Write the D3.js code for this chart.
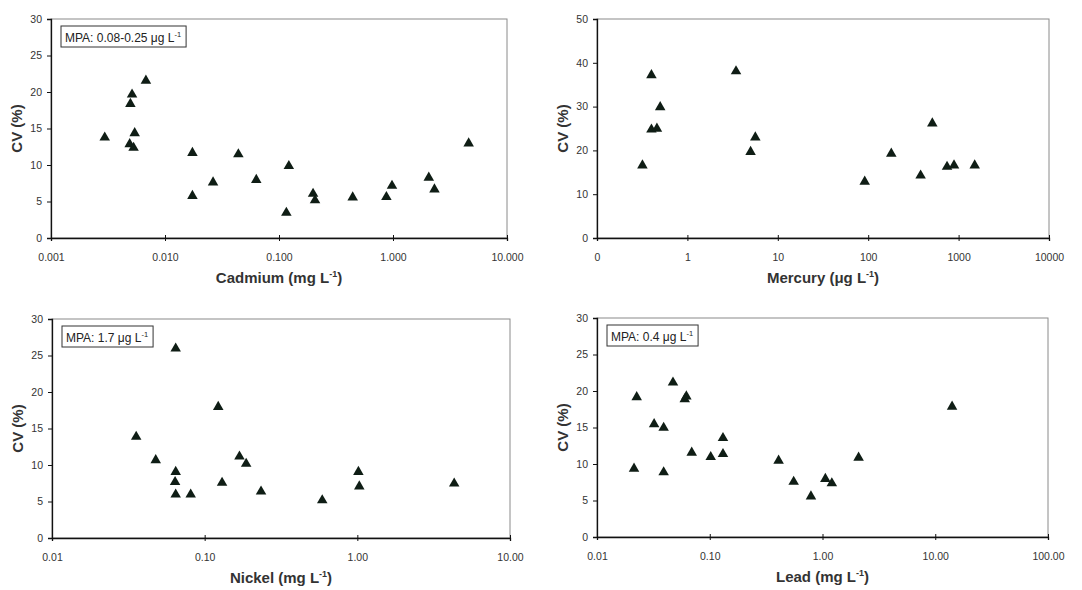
<!DOCTYPE html>
<html>
<head>
<meta charset="utf-8">
<script src="https://cdn.jsdelivr.net/npm/d3@7"></script>
<style>
body { margin: 0; background: #fff; }
svg { font-family: "Liberation Sans", Arial, sans-serif; }
</style>
</head>
<body>
<svg width="1082" height="590"></svg>
<script>
// データ
var cd_conc = [0.00296, 0.00497, 0.00514, 0.0068, 0.00542, 0.0049, 0.0053, 0.0174, 0.0174, 0.0264, 0.044,
               0.0632, 0.122, 0.116, 0.199, 0.207, 0.443, 0.875, 0.98, 2.06, 2.31, 4.61];
var cd_cv   = [13.9, 18.5, 19.8, 21.7, 14.5, 13.0, 12.5, 11.8, 5.9, 7.75, 11.6,
               8.1, 10.0, 3.6, 6.2, 5.3, 5.7, 5.75, 7.3, 8.4, 6.8, 13.1];

var hg_conc = [0.318, 0.40, 0.40, 0.46, 0.50, 3.45, 5.0, 5.64, 91.5, 180, 380, 512, 745, 890, 1507];
var hg_cv   = [16.8, 37.4, 25.0, 25.2, 30.1, 38.3, 19.9, 23.2, 13.1, 19.5, 14.5, 26.4, 16.5, 16.8, 16.8];

var ni_conc = [0.0356, 0.0478, 0.0646, 0.0646, 0.064, 0.0646, 0.081, 0.1227, 0.130, 0.169, 0.187,
               0.234, 0.589, 1.016, 1.03, 4.31];
var ni_cv   = [14.0, 10.8, 26.1, 9.2, 7.8, 6.1, 6.1, 18.1, 7.7, 11.3, 10.3,
               6.5, 5.3, 9.2, 7.2, 7.6];

var pb_conc = [0.0213, 0.0225, 0.0321, 0.039, 0.039, 0.0472, 0.060, 0.062, 0.0692, 0.102, 0.131,
               0.131, 0.408, 0.555, 0.79, 1.06, 1.21, 2.09, 14.1];
var pb_cv   = [9.5, 19.3, 15.6, 15.1, 9.0, 21.3, 19.0, 19.4, 11.7, 11.1, 13.7,
               11.5, 10.6, 7.7, 5.7, 8.1, 7.5, 11.0, 18.0];

// 軸の範囲・目盛り
var cd_xticks = [0.001, 0.01, 0.1, 1, 10];
var hg_xticks = [0.1, 1, 10, 100, 1000, 10000];
var ni_xticks = [0.01, 0.1, 1, 10];
var pb_xticks = [0.01, 0.1, 1, 10, 100];
var cv30_ticks = [0, 5, 10, 15, 20, 25, 30];
var cv50_ticks = [0, 10, 20, 30, 40, 50];

var x_titles = ["Cadmium (mg L", "Mercury (\u03bcg L", "Nickel (mg L", "Lead (mg L"];
var mpa_texts = ["MPA:  0.08-0.25 \u03bcg L", null, "MPA: 1.7 \u03bcg L", "MPA: 0.4 \u03bcg L"];

// パネル定義（位置はここだけ）
var panels = [
    { x: cd_conc, y: cd_cv, xt: cd_xticks, yt: cv30_ticks, fmt: ".3f", title: x_titles[0], mpa: mpa_texts[0],
      left: 51, right: 507, top: 19, bottom: 238 },
    { x: hg_conc, y: hg_cv, xt: hg_xticks, yt: cv50_ticks, fmt: ".0f", title: x_titles[1], mpa: mpa_texts[1],
      left: 597, right: 1049, top: 19, bottom: 238 },
    { x: ni_conc, y: ni_cv, xt: ni_xticks, yt: cv30_ticks, fmt: ".2f", title: x_titles[2], mpa: mpa_texts[2],
      left: 52, right: 510, top: 319, bottom: 538 },
    { x: pb_conc, y: pb_cv, xt: pb_xticks, yt: cv30_ticks, fmt: ".2f", title: x_titles[3], mpa: mpa_texts[3],
      left: 597, right: 1048, top: 318, bottom: 537 }
];

var svg = d3.select("svg");
var tri = d3.symbol().type(d3.symbolTriangle).size(48);

panels.forEach(function(p){
    var xs = d3.scaleLog()
        .domain([p.xt[0], p.xt[p.xt.length-1]])
        .range([p.left, p.right]);
    var ys = d3.scaleLinear()
        .domain([p.yt[0], p.yt[p.yt.length-1]])
        .range([p.bottom, p.top]);

    var g = svg.append("g");

    // 枠（上・右はグレー）
    g.append("rect")
        .attr("x", p.left).attr("y", p.top)
        .attr("width", p.right - p.left).attr("height", p.bottom - p.top)
        .attr("fill", "none").attr("stroke", "#8a8a8a").attr("stroke-width", 1);

    // x軸
    var xa = g.append("g")
        .attr("transform", "translate(0," + p.bottom + ")")
        .call(d3.axisBottom(xs).tickValues(p.xt).tickFormat(d3.format(p.fmt)).tickSize(3).tickPadding(13));
    xa.selectAll(".tick line").attr("y1", -3);
    // y軸
    var ya = g.append("g")
        .attr("transform", "translate(" + p.left + ",0)")
        .call(d3.axisLeft(ys).tickValues(p.yt).tickSize(4).tickPadding(5));

    [xa, ya].forEach(function(a){
        a.select(".domain").attr("stroke", "#111").attr("stroke-width", 1.3);
        a.selectAll(".tick line").attr("stroke", "#111");
        a.selectAll("text").attr("font-size", 10.5).attr("fill", "#333")
            .attr("font-family", "'Liberation Sans', Arial, sans-serif");
    });

    // 点
    var pts = p.x.map(function(v, i){ return { cx: v, cy: p.y[i] }; });
    g.selectAll("path.pt")
        .data(pts)
        .enter()
        .append("path")
        .attr("class", "pt")
        .attr("d", tri)
        .attr("transform", function(d){ return "translate(" + xs(d.cx) + "," + (ys(d.cy) + 1) + ")"; })
        .attr("fill", "#0f1d15");

    // 軸ラベル
    var xt = g.append("text")
        .attr("x", (p.left + p.right) / 2)
        .attr("y", p.bottom + 45)
        .attr("text-anchor", "middle")
        .attr("font-size", 15).attr("font-weight", "bold").attr("fill", "#333");
    xt.append("tspan").text(p.title);
    xt.append("tspan").attr("dy", -6).attr("font-size", 9).text("-1");
    xt.append("tspan").attr("dy", 6).text(")");

    g.append("text")
        .attr("transform", "translate(" + (p.left - 29) + "," + ((p.top + p.bottom) / 2) + ") rotate(-90)")
        .attr("text-anchor", "middle")
        .attr("font-size", 15).attr("font-weight", "bold").attr("fill", "#333")
        .text("CV (%)");

    // MPA の枠
    if(p.mpa){
        var mt = g.append("text")
            .attr("x", p.left + 14)
            .attr("y", p.top + 23)
            .attr("font-size", 12).attr("fill", "#222");
        mt.append("tspan").text(p.mpa);
        mt.append("tspan").attr("dy", -5).attr("font-size", 7.5).text("-1");
        var bb = mt.node().getBBox();
        g.insert("rect", function(){ return mt.node(); })
            .attr("x", p.left + 10)
            .attr("y", p.top + 7)
            .attr("width", bb.width + 9)
            .attr("height", 21)
            .attr("fill", "#fff").attr("stroke", "#333").attr("stroke-width", 1);
    }
});
</script>
</body>
</html>
